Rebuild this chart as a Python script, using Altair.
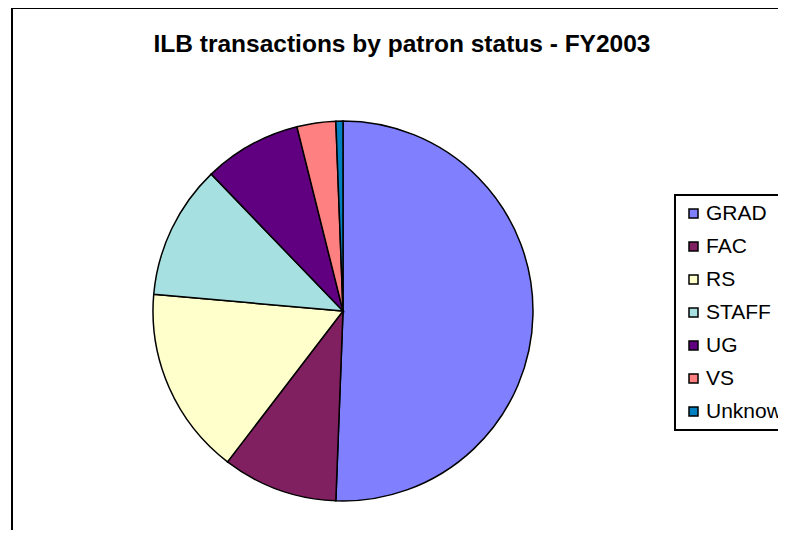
import altair as alt
import pandas as pd

categories = ["GRAD", "FAC", "RS", "STAFF", "UG", "VS", "Unknown"]
shares = [50.6, 9.8, 16.0, 11.4, 8.3, 3.3, 0.6]
colors = ["#8080FF", "#802060", "#FFFFCC", "#A6E0E0", "#600080", "#FF8080", "#0080C0"]

df = pd.DataFrame({"status": categories, "share": shares, "idx": list(range(len(categories)))})

frame_src = pd.DataFrame({"a": [0]})
frame_top = alt.Chart(frame_src).mark_rule(color="black", strokeWidth=2).encode(
    x=alt.value(3), x2=alt.value(1000), y=alt.value(0)
)
frame_left = alt.Chart(frame_src).mark_rule(color="black", strokeWidth=2).encode(
    x=alt.value(4), y=alt.value(-1), y2=alt.value(1000)
)

pie = alt.Chart(df).mark_arc(
    outerRadius=190, stroke="black", strokeWidth=1.5
).encode(
    theta=alt.Theta("share:Q", stack=True),
    order=alt.Order("idx:Q"),
    color=alt.Color(
        "status:N",
        sort=categories,
        scale=alt.Scale(domain=categories, range=colors),
        legend=alt.Legend(
            title=None,
            orient="none",
            legendX=667,
            legendY=187,
            strokeColor="black",
            padding=8,
            symbolType="square",
            symbolSize=81,
            symbolStrokeColor="black",
            symbolStrokeWidth=1.5,
            symbolOpacity=1,
            labelFont="Liberation Sans",
            labelFontSize=21,
            labelColor="black",
            labelOffset=2,
            rowPadding=11,
            labelLimit=300,
        ),
    ),
    x=alt.value(335),
    y=alt.value(303),
)

chart = alt.layer(frame_top, frame_left, pie).properties(
    width=770,
    height=522,
    padding=0,
    autosize=alt.AutoSizeParams(type="none"),
    title=alt.TitleParams(
        "ILB transactions by patron status - FY2003",
        font="Liberation Sans",
        fontSize=24.5,
        fontWeight="bold",
        color="black",
        anchor="middle",
        baseline="alphabetic",
        offset=0,
        dx=9,
        dy=70,
    ),
).configure_view(strokeWidth=0, strokeOpacity=0).configure_legend(strokeWidth=2)

chart.save("out.html", embed_options={"renderer": "svg", "actions": False})
